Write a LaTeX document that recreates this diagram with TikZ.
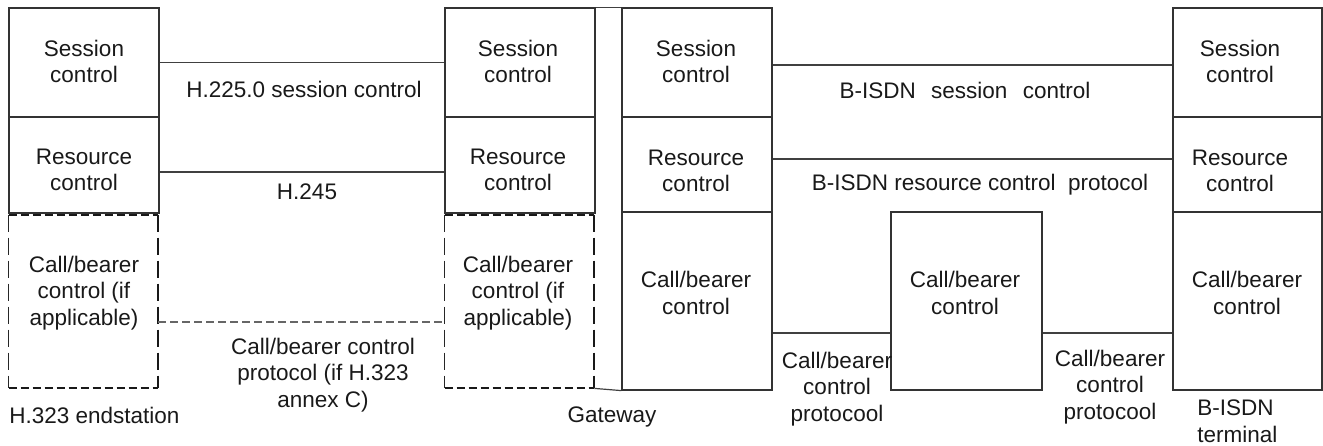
\documentclass[tikz,border=0pt]{standalone}
\usepackage{fontspec}
\setmainfont{Liberation Sans}
\begin{document}
\begin{tikzpicture}[x=0.5pt,y=-0.5pt,
  every node/.style={font=\fontsize{11.25pt}{13.3pt}\selectfont, text=black!90},
  box/.style={draw=black!80, line width=0.6pt, rectangle, inner sep=0pt},
  dbox/.style={rectangle, inner sep=0pt},
  dh/.style={draw=black!90, line width=1pt, dash pattern=on 4pt off 2pt},
  dvl/.style={draw=black!85, line width=0.55pt, dash pattern=on 8.5pt off 3pt},
  dvr/.style={draw=black!90, line width=1pt, dash pattern=on 8.5pt off 3pt},
  link/.style={draw=black!75, line width=0.6pt},
  dlink/.style={draw=black!60, line width=0.6pt, dash pattern=on 4pt off 2pt},
  txt/.style={align=center, inner sep=0pt}]
\useasboundingbox (0,0) rectangle (1323,445);
% H.323 endstation
\node[box, minimum width=75pt, minimum height=54.5pt] (A1) at (84,62.5) {};
\node[box, minimum width=75pt, minimum height=48pt] (A2) at (84,165) {};
\node[dbox, minimum width=74.5pt, minimum height=86.5pt] (A3) at (83.5,301.5) {};
\draw[dh] (A3.north west) -- (A3.north east);
\draw[dh] (A3.south west) -- (A3.south east);
\draw[dvl] (A3.north west) -- (A3.south west);
\draw[dvr] (A3.north east) -- (A3.south east);
% Gateway
\node[box, minimum width=75pt, minimum height=54.5pt] (G1) at (520,62.5) {};
\node[box, minimum width=75pt, minimum height=48pt] (G2) at (520,165) {};
\node[dbox, minimum width=74.5pt, minimum height=86.5pt] (G3) at (519.5,301.5) {};
\draw[dh] (G3.north west) -- (G3.north east);
\draw[dh] (G3.south west) -- (G3.south east);
\draw[dvl] (G3.north west) -- (G3.south west);
\draw[dvr] (G3.north east) -- (G3.south east);
\node[box, minimum width=75pt, minimum height=54.5pt] (G4) at (697,62.5) {};
\node[box, minimum width=75pt, minimum height=47.5pt] (G5) at (697,164.5) {};
\node[box, minimum width=75pt, minimum height=89pt] (G6) at (697,301) {};
% middle
\node[box, minimum width=75.5pt, minimum height=89pt] (M) at (966.5,301) {};
% terminal
\node[box, minimum width=74.5pt, minimum height=54.5pt] (T1) at (1247.5,62.5) {};
\node[box, minimum width=74.5pt, minimum height=47.5pt] (T2) at (1247.5,164.5) {};
\node[box, minimum width=74.5pt, minimum height=89pt] (T3) at (1247.5,301) {};

% box texts
\node[txt] (A1t) at (84,61.5) {Session\\control};
\node[txt] (A2t) at (84,170) {Resource\\control};
\node[txt] (A3t) at (84,293) {Call/bearer\\control (if\\applicable)};
\node[txt] (G1t) at (518,61.5) {Session\\control};
\node[txt] (G2t) at (518,170) {Resource\\control};
\node[txt] (G3t) at (518,293) {Call/bearer\\control (if\\applicable)};
\node[txt] (G4t) at (696,61.5) {Session\\control};
\node[txt] (G5t) at (696,171) {Resource\\control};
\node[txt] (G6t) at (696,293) {Call/bearer\\control};
\node[txt] (Mt) at (965,293) {Call/bearer\\control};
\node[txt] (T1t) at (1240,61.5) {Session\\control};
\node[txt] (T2t) at (1240,171) {Resource\\control};
\node[txt] (T3t) at (1247,293) {Call/bearer\\control};

% helper coordinates
\coordinate (yh245) at (0,172);
\coordinate (yann) at (0,322);
\coordinate (ybs) at (0,65);
\coordinate (ybr) at (0,159);
\coordinate (ybc) at (0,333);

% connectors
\draw[link] (A1.east) -- (G1.west);
\draw[link] (A2.east |- yh245) -- (G2.west |- yh245);
\draw[dlink] (A3.east |- yann) -- (G3.west |- yann);
\draw[link] (G4.east |- ybs) -- (T1.west |- ybs);
\draw[link] (G5.east |- ybr) -- (T2.west |- ybr);
\draw[link] (G6.east |- ybc) -- (M.west |- ybc);
\draw[link] (M.east |- ybc) -- (T3.west |- ybc);
% gateway frame
\draw[link] (G1.north east) -- (G4.north west);
\draw[link] (G3.south east) -- (G6.south west);

% labels
\node[txt] (l1) at (304,89) {H.225.0 session control};
\node[txt] (l2) at (307,192) {H.245};
\node[txt] (l3) at (323,375) {Call/bearer control\\protocol (if H.323\\annex C)};
\node[txt, anchor=west] (l4) at (9,415) {H.323 endstation};
\node[txt] (l5) at (612,417) {Gateway};
\node[txt] (l6) at (965,90) {B-ISDN\hspace{0.68em}session\hspace{0.68em}control};
\node[txt] (l7) at (980,185) {B-ISDN resource control\ \ protocol};
\node[txt] (l8) at (837,389) {Call/bearer\\control\\protocool};
\node[txt] (l9) at (1110,387) {Call/bearer\\control\\protocool};
\node[txt, align=left, anchor=west] (l10) at (1197,421.5) {B-ISDN\\terminal};
\end{tikzpicture}
\end{document}
